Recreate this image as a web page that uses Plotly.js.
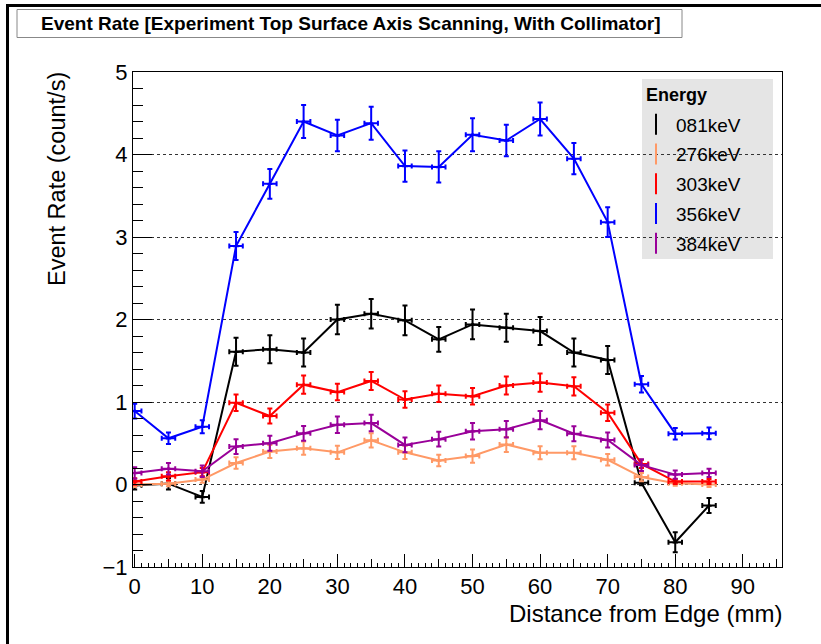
<!DOCTYPE html>
<html>
<head>
<meta charset="utf-8">
<script src="https://cdn.plot.ly/plotly-3.0.1.min.js"></script>
<style>
  html, body { margin: 0; padding: 0; background: #ffffff; }
  #chart { width: 821px; height: 644px; }
</style>
</head>
<body>
<div id="chart"></div>
<script>
// Scan positions along the top surface (mm)
const distance = [0, 5, 10, 15, 20, 25, 30, 35, 40, 45, 50, 55, 60, 65, 70, 75, 80, 85];
const positionError = 1; // mm, half-width of the horizontal error bars

const energyLabels = ['081keV', '276keV', '303keV', '356keV', '384keV'];
const energyColors = ['#000000', '#ff9966', '#ff0000', '#0000ff', '#990099'];

// Event rates (count/s) per gamma line
const rate081 = [-0.01, 0.01, -0.15, 1.61, 1.64, 1.60, 2.00, 2.07, 1.99, 1.76, 1.94, 1.90, 1.86, 1.60, 1.51, 0.02, -0.70, -0.255];
const rate276 = [0.00, 0.01, 0.06, 0.26, 0.40, 0.44, 0.39, 0.535, 0.39, 0.29, 0.345, 0.485, 0.385, 0.385, 0.30, 0.09, 0.016, 0.00];
const rate303 = [0.036, 0.10, 0.15, 0.99, 0.83, 1.21, 1.12, 1.255, 1.03, 1.10, 1.07, 1.20, 1.235, 1.19, 0.87, 0.25, 0.036, 0.036];
const rate356 = [0.89, 0.56, 0.70, 2.89, 3.645, 4.40, 4.23, 4.38, 3.86, 3.85, 4.24, 4.17, 4.43, 3.95, 3.18, 1.215, 0.616, 0.62];
const rate384 = [0.14, 0.19, 0.16, 0.46, 0.50, 0.62, 0.725, 0.745, 0.48, 0.55, 0.645, 0.67, 0.78, 0.615, 0.54, 0.235, 0.12, 0.14];

// Statistical uncertainties on the rates (count/s)
const err081 = [0.05, 0.07, 0.07, 0.17, 0.17, 0.17, 0.18, 0.18, 0.18, 0.15, 0.18, 0.17, 0.17, 0.17, 0.17, 0.03, 0.12, 0.09];
const err276 = [0.03, 0.03, 0.04, 0.07, 0.08, 0.08, 0.08, 0.085, 0.08, 0.07, 0.08, 0.09, 0.08, 0.08, 0.07, 0.05, 0.03, 0.03];
const err303 = [0.04, 0.05, 0.05, 0.10, 0.09, 0.11, 0.10, 0.11, 0.10, 0.10, 0.10, 0.11, 0.11, 0.11, 0.10, 0.05, 0.03, 0.03];
const err356 = [0.09, 0.07, 0.08, 0.17, 0.18, 0.20, 0.19, 0.20, 0.19, 0.19, 0.20, 0.19, 0.20, 0.19, 0.18, 0.10, 0.07, 0.07];
const err384 = [0.07, 0.07, 0.07, 0.09, 0.09, 0.09, 0.10, 0.10, 0.09, 0.09, 0.10, 0.10, 0.11, 0.09, 0.09, 0.07, 0.05, 0.05];

const rates = [rate081, rate276, rate303, rate356, rate384];
const errors = [err081, err276, err303, err356, err384];

const FONT = 'Liberation Sans, Arial, Helvetica, sans-serif';

// Plot frame in pixels
const W = 821, H = 644;
const M = { l: 133, r: 39, t: 72, b: 77 };
const PW = W - M.l - M.r, PH = H - M.t - M.b;
const px = v => (v - M.l) / PW;        // pixel x -> paper x
const py = v => 1 - (v - M.t) / PH;    // pixel y -> paper y

const traces = [];
energyLabels.forEach((label, i) => {
  traces.push({
    type: 'scatter',
    mode: 'lines+markers',
    x: distance,
    y: rates[i],
    name: label,
    showlegend: false,
    line: { color: energyColors[i], width: 2 },
    marker: { symbol: 'triangle-up', size: 5, color: energyColors[i] },
    error_y: { type: 'data', array: errors[i], visible: true, color: energyColors[i], thickness: 2, width: 2.5 },
    error_x: { type: 'constant', value: positionError, visible: true, color: energyColors[i], thickness: 2, width: 2.5 },
    cliponaxis: true,
    hoverinfo: 'x+y+name'
  });
});
// Legend entries drawn as vertical error-bar glyphs
energyLabels.forEach((label, i) => {
  traces.push({
    type: 'scatter',
    mode: 'markers',
    x: [null],
    y: [null],
    name: label,
    legendgroup: label,
    showlegend: true,
    marker: { symbol: 'line-ns-open', size: 15, color: energyColors[i], line: { color: energyColors[i], width: 2 } },
    hoverinfo: 'skip'
  });
});
// Secondary tick set at every 5 mm
traces.push({
  type: 'scatter', mode: 'markers', x: [null], y: [null],
  xaxis: 'x2', yaxis: 'y', showlegend: false, hoverinfo: 'skip'
});

const layout = {
  width: W,
  height: H,
  margin: M,
  paper_bgcolor: '#ffffff',
  plot_bgcolor: '#ffffff',
  font: { family: FONT, color: '#000000' },
  showlegend: true,
  xaxis: {
    range: [-0.25, 95.8],
    tickmode: 'linear', tick0: 0, dtick: 10,
    ticks: 'inside', ticklen: 13, tickwidth: 1, tickcolor: '#000000',
    minor: { dtick: 1, ticks: 'inside', ticklen: 4, tickwidth: 1, tickcolor: '#000000', showgrid: false },
    showline: true, linecolor: '#000000', linewidth: 1, mirror: true,
    showgrid: false, zeroline: false,
    tickfont: { family: FONT, size: 22, color: '#000000' },
    ticklabelstandoff: 0
  },
  xaxis2: {
    overlaying: 'x', matches: 'x', anchor: 'y', side: 'bottom',
    tickmode: 'linear', tick0: 0, dtick: 5,
    ticks: 'inside', ticklen: 8, tickwidth: 1, tickcolor: '#000000',
    showticklabels: false, showgrid: false, showline: false, zeroline: false
  },
  yaxis: {
    range: [-1, 5],
    tickmode: 'linear', tick0: 0, dtick: 1,
    ticks: 'inside', ticklen: 19, tickwidth: 1, tickcolor: '#000000',
    minor: { dtick: 0.2, ticks: 'inside', ticklen: 10, tickwidth: 1, tickcolor: '#000000', showgrid: false },
    showline: true, linecolor: '#000000', linewidth: 1, mirror: true,
    showgrid: true, gridcolor: '#333333', gridwidth: 1, griddash: 'dot',
    zeroline: false,
    tickfont: { family: FONT, size: 22, color: '#000000' },
    ticklabelstandoff: 0
  },
  legend: {
    x: px(636), y: py(105.5), xanchor: 'left', yanchor: 'top',
    bgcolor: 'rgba(0,0,0,0)', borderwidth: 0,
    font: { family: FONT, size: 19, color: '#000000' },
    traceorder: 'grouped', tracegroupgap: 2,
    itemsizing: 'trace'
  },
  shapes: [
    // canvas frame
    { type: 'rect', xref: 'paper', yref: 'paper', x0: px(7.5), x1: px(840), y0: py(5.5), y1: py(660),
      line: { color: '#000000', width: 3 }, fillcolor: 'rgba(0,0,0,0)', layer: 'above' },
    // title box
    { type: 'rect', xref: 'paper', yref: 'paper', x0: px(17), x1: px(682), y0: py(9.5), y1: py(37.5),
      line: { color: '#888888', width: 1 }, fillcolor: '#ffffff', layer: 'above' },
    // legend panel
    { type: 'rect', xref: 'paper', yref: 'paper', x0: px(642), x1: px(773), y0: py(79), y1: py(259),
      line: { width: 0 }, fillcolor: '#e5e5e5', layer: 'below' }
  ],
  annotations: [
    { text: '<b>Event Rate [Experiment Top Surface Axis Scanning, With Collimator]</b>',
      xref: 'paper', yref: 'paper', x: px(351), y: py(23.5), xanchor: 'center', yanchor: 'middle',
      showarrow: false, font: { family: FONT, size: 19, color: '#000000' } },
    { text: '<b>Energy</b>',
      xref: 'paper', yref: 'paper', x: px(644), y: py(95), xanchor: 'left', yanchor: 'middle',
      showarrow: false, font: { family: FONT, size: 18, color: '#000000' } },
    { text: 'Distance from Edge (mm)',
      xref: 'paper', yref: 'paper', x: px(784), y: py(613), xanchor: 'right', yanchor: 'middle',
      showarrow: false, font: { family: FONT, size: 24, color: '#000000' } },
    { text: 'Event Rate (count/s)',
      xref: 'paper', yref: 'paper', x: px(57), y: py(70), xanchor: 'center', yanchor: 'top',
      textangle: -90, showarrow: false, font: { family: FONT, size: 23.5, color: '#000000' } }
  ]
};

Plotly.newPlot('chart', traces, layout, { displayModeBar: false, staticPlot: true });
</script>
</body>
</html>
